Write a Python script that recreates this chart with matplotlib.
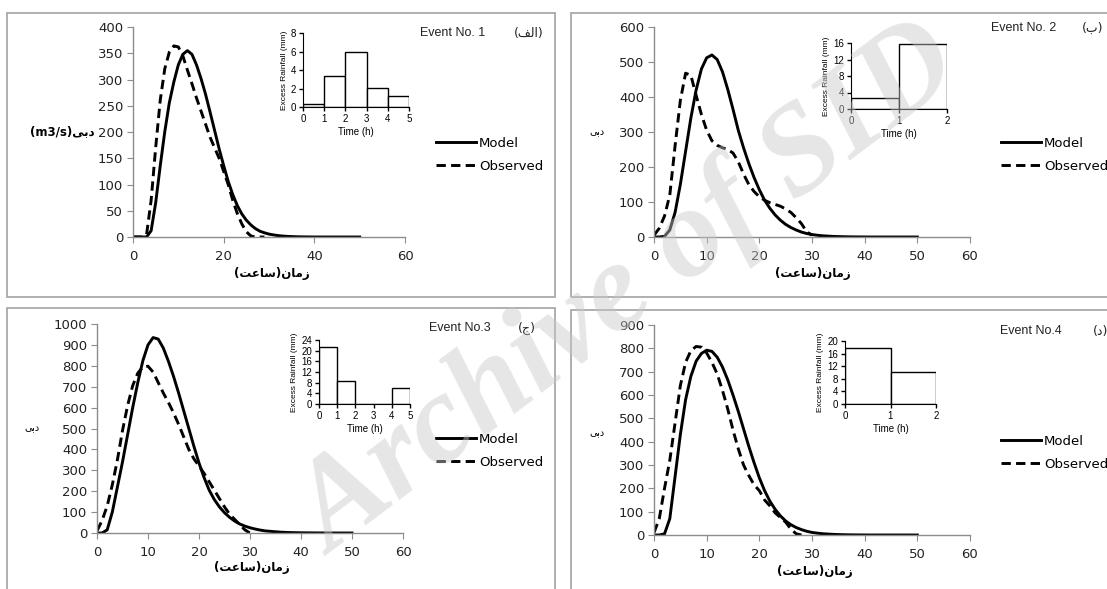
import matplotlib
matplotlib.use('Agg')
import matplotlib.pyplot as plt
from matplotlib.patches import Rectangle

W, H = 1107, 589

# --- data (hourly values) ---
t_model = list(range(51))
model_1 = [0, 0, 0, 0, 12, 65, 135, 200, 255, 295, 328, 348, 355, 348, 328, 302, 272, 238, 203, 168,
           136, 106, 81, 60, 44, 32, 23, 16, 11, 8, 5.5, 4, 2.7, 1.8, 1.2, 0.8, 0.5, 0.3, 0.2, 0.1,
           0, 0, 0, 0, 0, 0, 0, 0, 0, 0, 0]
model_2 = [0, 0, 2, 20, 70, 150, 245, 340, 420, 480, 512, 520, 507, 472, 422, 365, 305, 255, 210, 170,
           135, 105, 82, 63, 48, 36, 27, 20, 14, 10, 7, 5, 3.5, 2.5, 1.7, 1.2, 0.8, 0.5, 0.3, 0.2,
           0.1, 0, 0, 0, 0, 0, 0, 0, 0, 0, 0]
model_3 = [0, 0, 15, 100, 220, 340, 470, 600, 720, 825, 900, 935, 928, 885, 822, 750, 670, 585, 500, 415,
           335, 265, 205, 160, 125, 97, 75, 57, 43, 33, 25, 19, 14, 10, 8, 6, 4, 3, 2, 1.5,
           1, 0.8, 0.6, 0.4, 0.3, 0.2, 0.1, 0.1, 0, 0, 0]
model_4 = [0, 0, 5, 70, 250, 430, 580, 680, 745, 778, 792, 787, 762, 720, 665, 600, 530, 455, 380, 310,
           245, 190, 145, 110, 82, 60, 44, 32, 23, 16, 11, 8, 5.5, 4, 2.7, 1.8, 1.2, 0.8, 0.5, 0.3,
           0.2, 0, 0, 0, 0, 0, 0, 0, 0, 0, 0]

t_obs_1 = list(range(30))
obs_1 = [0, 0, 0, 5, 70, 170, 260, 320, 352, 364, 362, 345, 318, 292, 265, 240, 215, 190, 170, 150,
         125, 100, 70, 45, 25, 10, 2, 0, 0, 0]
t_obs_2 = list(range(31))
obs_2 = [5, 25, 60, 120, 260, 390, 468, 462, 405, 350, 305, 275, 262, 255, 250, 240, 215, 180, 150, 130,
         115, 105, 98, 93, 88, 80, 70, 55, 38, 15, 5]
t_obs_3 = list(range(31))
obs_3 = [10, 60, 130, 230, 350, 490, 610, 705, 765, 795, 798, 770, 720, 670, 625, 575, 520, 460, 400, 355,
         320, 285, 245, 205, 165, 125, 90, 65, 40, 15, 0]
t_obs_4 = list(range(30))
obs_4 = [10, 70, 200, 320, 480, 640, 740, 790, 808, 805, 780, 740, 690, 620, 540, 450, 370, 300, 255, 215,
         190, 150, 125, 95, 75, 55, 25, 5, 0, 0]

# excess rainfall hyetographs (mm per hour)
rain_t_1 = [0, 1, 2, 3, 4]
rain_1 = [0.3, 3.3, 6.0, 2.1, 1.2]
rain_t_2 = [0, 1]
rain_2 = [2.7, 15.7]
rain_t_3 = [0, 1, 2, 3, 4]
rain_3 = [21.5, 8.5, 0, 0, 6.0]
rain_t_4 = [0, 1]
rain_4 = [17.8, 10.3]

event_names = ['Event No. 1', 'Event No. 2', 'Event No.3', 'Event No.4']
# persian labels, already shaped and in visual order
panel_tags = ['(\ufed2\ufedf\ufe8d)', '(\ufe8f)', '(\ufe9d)', '(\ufea9)']
q_label = '\ufef0\ufe91\ufea9'                      # دبی
t_label = '(\ufe96\ufecb\ufe8e\ufeb3)\ufee5\ufe8e\ufee3\ufeaf'   # زمان(ساعت)

AR = ['DejaVu Sans']
TXT = ['Liberation Sans', 'DejaVu Sans']


def box(l, t, r, b):
    return [l / W, 1 - b / H, (r - l) / W, (b - t) / H]


fig = plt.figure(figsize=(W / 100, H / 100), dpi=100)

# panel frames
for (l, t, r, b) in [(7, 13, 555, 297), (571, 13, 1112, 297), (7, 308, 555, 594), (571, 310, 1112, 594)]:
    fig.add_artist(Rectangle((l / W, 1 - b / H), (r - l) / W, (b - t) / H, transform=fig.transFigure,
                             fill=False, edgecolor='#a9a9a9', lw=1.3))

panels = [
    dict(ax=(133, 27, 405, 237), ylim=400, ystep=50, xt=[0, 20, 40, 60], tm=model_1, to=t_obs_1, o=obs_1,
         ins=(303, 33, 409, 107), rt=rain_t_1, r=rain_1, rmax=8, rstep=2, rx=5,
         ev=(420, 33), tag=(514, 33), leg=(436, 155), xl=(272, 274), yl=(62, 132)),
    dict(ax=(654, 27, 970, 237), ylim=600, ystep=100, xt=list(range(0, 61, 10)), tm=model_2, to=t_obs_2, o=obs_2,
         ins=(851, 43, 947, 109), rt=rain_t_2, r=rain_2, rmax=16, rstep=4, rx=2,
         ev=(991, 28), tag=(1082, 28), leg=(1001, 155), xl=(813, 273), yl=(597, 132)),
    dict(ax=(97, 324, 403, 533), ylim=1000, ystep=100, xt=list(range(0, 61, 10)), tm=model_3, to=t_obs_3, o=obs_3,
         ins=(319, 340, 410, 404), rt=rain_t_3, r=rain_3, rmax=24, rstep=4, rx=5,
         ev=(429, 328), tag=(518, 328), leg=(436, 451), xl=(252, 568), yl=(32, 428)),
    dict(ax=(654, 325, 970, 535), ylim=900, ystep=100, xt=list(range(0, 61, 10)), tm=model_4, to=t_obs_4, o=obs_4,
         ins=(845, 341, 936, 404), rt=rain_t_4, r=rain_4, rmax=20, rstep=4, rx=2,
         ev=(1000, 331), tag=(1093, 331), leg=(1001, 453), xl=(815, 572), yl=(597, 433)),
]

for i, p in enumerate(panels):
    ax = fig.add_axes(box(*p['ax']))
    ax.plot(t_model, p['tm'], color='black', lw=2.1, label='Model', solid_joinstyle='round')
    ax.plot(p['to'], p['o'], color='black', lw=2.1, ls=(0, (3.2, 1.8)), label='Observed')
    ax.set_xlim(0, 60)
    ax.set_ylim(0, p['ylim'])
    ax.set_xticks(p['xt'])
    ax.set_yticks(range(0, p['ylim'] + 1, p['ystep']))
    for s in ['top', 'right']:
        ax.spines[s].set_visible(False)
    for s in ['left', 'bottom']:
        ax.spines[s].set_color('#8c8c8c')
        ax.spines[s].set_linewidth(1)
    ax.tick_params(axis='both', direction='out', length=4, color='#8c8c8c', labelsize=9.5, labelcolor='#222222')
    ax.tick_params(axis='y', pad=3)
    ax.tick_params(axis='x', pad=5)
    for lab in ax.get_xticklabels() + ax.get_yticklabels():
        lab.set_family('DejaVu Sans')
    ax.patch.set_alpha(0)

    leg = ax.legend(loc='center left', bbox_to_anchor=(p['leg'][0] / W, 1 - p['leg'][1] / H),
                    bbox_transform=fig.transFigure, frameon=False, fontsize=9.5, handlelength=3.0,
                    handletextpad=0.25, labelspacing=0.75, borderpad=0, borderaxespad=0)
    for txt in leg.get_texts():
        txt.set_family('DejaVu Sans')

    # inset hyetograph
    ia = fig.add_axes(box(*p['ins']))
    ia.bar(p['rt'], p['r'], width=1, align='edge', facecolor='white', edgecolor='black', lw=1)
    ia.set_xlim(0, p['rx'])
    ia.set_ylim(0, p['rmax'])
    ia.set_xticks(range(0, p['rx'] + 1))
    ia.set_yticks(range(0, p['rmax'] + 1, p['rstep']))
    for s in ['top', 'right']:
        ia.spines[s].set_visible(False)
    ia.tick_params(direction='out', length=3, width=1, labelsize=7, pad=2)
    ia.set_xlabel('Time (h)', fontsize=7, family=TXT, labelpad=2)
    ia.set_ylabel('Excess Rainfall (mm)', fontsize=6, family=TXT, labelpad=2)
    for lab in ia.get_xticklabels() + ia.get_yticklabels():
        lab.set_family(TXT)

    fig.text(p['ev'][0] / W, 1 - p['ev'][1] / H, event_names[i], fontsize=9, family=TXT,
             color='#222222', ha='left', va='center')
    fig.text(p['tag'][0] / W, 1 - p['tag'][1] / H, panel_tags[i], fontsize=9, family=AR,
             color='#222222', ha='left', va='center')
    fig.text(p['xl'][0] / W, 1 - p['xl'][1] / H, t_label, fontsize=8.5, family=AR, weight='bold',
             ha='center', va='center')
    if i == 0:
        fig.text(p['yl'][0] / W, 1 - p['yl'][1] / H, '(m3/s)' + q_label, fontsize=8.5, family=AR,
                 weight='bold', ha='center', va='center')
    else:
        fig.text(p['yl'][0] / W, 1 - p['yl'][1] / H, q_label, fontsize=7, family=AR,
                 ha='center', va='center')

# archive watermark
fig.text(630 / W, 1 - 292 / H, 'Archive of SID', rotation=37, fontsize=92, family='Liberation Serif',
         style='italic', weight='bold', color='#c8c8c8', alpha=0.45, ha='center', va='center',
         rotation_mode='anchor', zorder=50)

fig.savefig('out.png', dpi=100)
